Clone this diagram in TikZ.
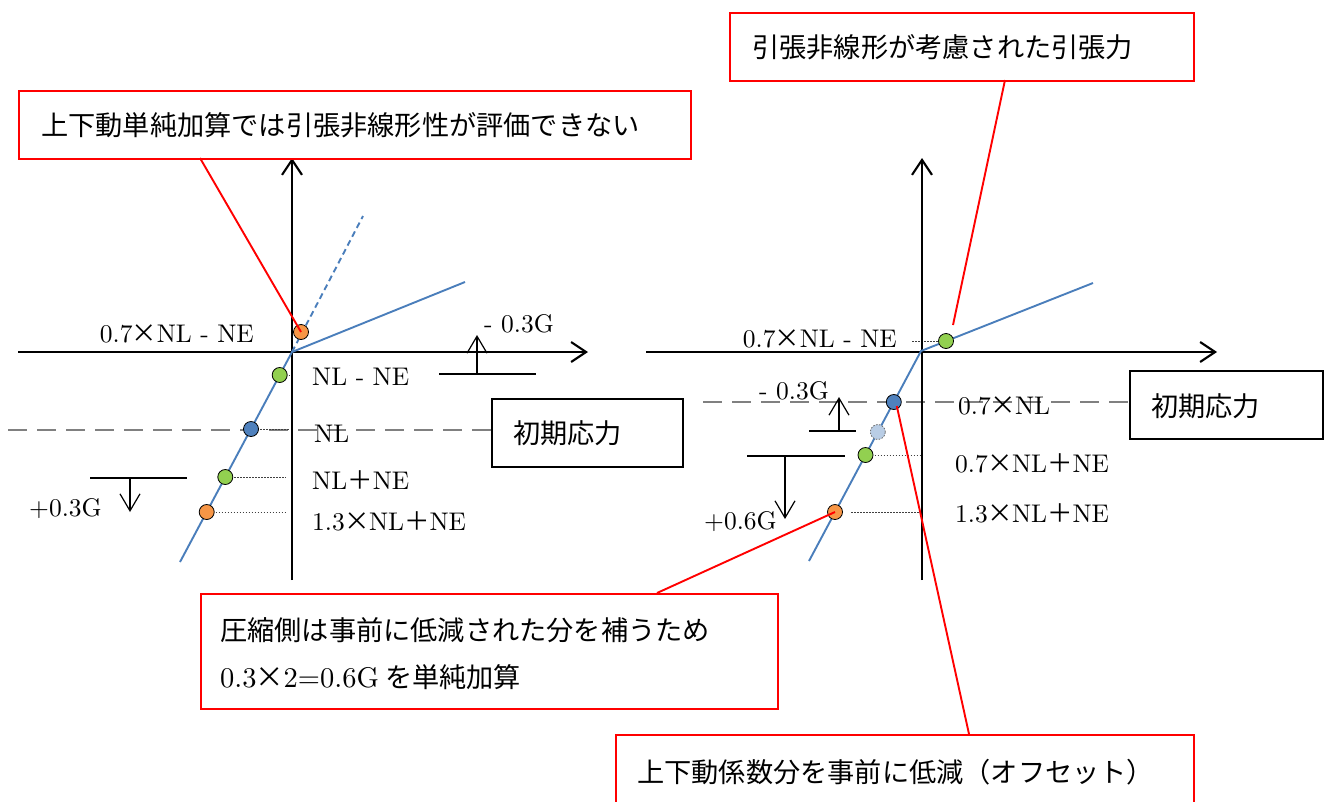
\documentclass[tikz,border=0pt]{standalone}
\usepackage{fontspec}
\setmainfont{lmroman10-regular.otf}
\newfontfamily\lat{lmroman10-regular.otf}
\newfontfamily\jp{Noto Sans CJK JP}
\usetikzlibrary{arrows.meta}
\definecolor{bl}{HTML}{4A7EBB}
\definecolor{org}{HTML}{F79646}
\definecolor{grn}{HTML}{92D050}
\definecolor{bdot}{HTML}{4F81BD}
\definecolor{ldot}{HTML}{B9CDE5}
\newcommand{\tms}{\makebox[0.95em][c]{\jp ×}}
\newcommand{\pls}{{\jp ＋}}
\tikzset{
  axisline/.style={line width=2.1pt,-{Straight Barb[length=15pt,width=20pt]}},
  curve/.style={bl,line width=1.9pt},
  dot/.style={circle,draw=black,line width=0.8pt,minimum size=15pt,inner sep=0pt},
  lead/.style={line width=1pt,black!75,dash pattern=on 1.5pt off 1.5pt},
  gdash/.style={gray,line width=1.8pt,dash pattern=on 19pt off 10pt},
  redbox/.style={draw=red,line width=1.9pt,inner sep=0pt,anchor=north west},
  blkbox/.style={draw=black,line width=2pt,inner sep=0pt,anchor=north west},
  rline/.style={red,line width=1.9pt},
  lbl/.style={font=\lat\fontsize{25.5}{30}\selectfont,inner sep=0pt},
  jtxt/.style={font=\jp\fontsize{27.2}{32}\selectfont,inner sep=0pt,anchor=west},
  garrow/.style={line width=1.2pt,-{Straight Barb[length=17pt,width=20pt]}},
  thinline/.style={line width=1.2pt}
}
\begin{document}
\begin{tikzpicture}[x=1pt,y=-1pt]
\useasboundingbox (0,0) rectangle (1330,801);
\clip (0,0) rectangle (1330,801);
% ---------------- left diagram ----------------
\draw[gdash] (8,430) -- (491,430);
\node[dot,draw=none] (lo1) at (301,332) {};
\node[dot,draw=none] (lg1) at (279.7,375) {};
\node[dot,draw=none] (lb1) at (251,429) {};
\node[dot,draw=none] (lg2) at (225.3,477) {};
\node[dot,draw=none] (lo2) at (206.7,512) {};
\coordinate (lax1) at (290,375);
\coordinate (lax2) at (290,429);
\coordinate (lax3) at (286,477);
\coordinate (lax4) at (286,512);
\draw[lead] (lg1.center) -- (lax1);
\draw[lead] (lb1.center) -- (lax2);
\draw[lead] (lg2.center) -- (lax3);
\draw[lead] (lo2.center) -- (lax4);
\coordinate (lxs) at (18,352); \coordinate (lxe) at (588,352);
\coordinate (lys) at (292,580); \coordinate (lye) at (292,158);
\draw[axisline] (lxs) -- (lxe);
\draw[axisline] (lys) -- (lye);
\coordinate (lO) at (292,352);
\coordinate (lc1) at (180,562);
\coordinate (lc2) at (465,282);
\coordinate (lc3) at (363,216);
\draw[curve] (lc1) -- (lO) -- (lc2);
\draw[curve,dash pattern=on 6pt off 4pt] (lO) -- (lc3);
\node[dot,fill=org] at (lo1) {};
\node[dot,fill=grn] at (lg1) {};
\node[dot,fill=bdot] at (lb1) {};
\node[dot,fill=grn] at (lg2) {};
\node[dot,fill=org] at (lo2) {};
% G arrows
\coordinate (lu1) at (439,374); \coordinate (lu2) at (536,374);
\coordinate (lu3) at (477,374); \coordinate (lu4) at (477,335);
\draw[thinline] (lu1) -- (lu2);
\draw[garrow] (lu3) -- (lu4);
\coordinate (ld1) at (90,478); \coordinate (ld2) at (187,478);
\coordinate (ld3) at (130,478); \coordinate (ld4) at (130,512);
\draw[thinline] (ld1) -- (ld2);
\draw[garrow] (ld3) -- (ld4);
% labels
\node[lbl,anchor=base east] (ll1) at (254,342) {0.7\tms NL - NE};
\node[lbl,anchor=base west] (ll2) at (312,385) {NL - NE};
\node[lbl,anchor=base west] (ll3) at (314,442) {NL};
\node[lbl,anchor=base west] (ll4) at (312,489) {NL\pls NE};
\node[lbl,anchor=base west] (ll5) at (312,530) {1.3\tms NL\pls NE};
\node[lbl,anchor=base west] (ll6) at (484,332) {- 0.3G};
\node[lbl,anchor=base west] (ll7) at (29,516) {+0.3G};
\node[blkbox,minimum width=191pt,minimum height=68pt] (kb1) at (491,398) {};
\node[jtxt] (kt1) at (513,433) {初期応力};
% ---------------- right diagram ----------------
\draw[gdash] (703,402) -- (1129,402);
\node[dot,draw=none] (rg1) at (946,341) {};
\node[dot,draw=none] (rb1) at (893.8,402) {};
\node[dot,draw=none] (rl1) at (877.8,432) {};
\node[dot,draw=none] (rg2) at (865.5,455) {};
\node[dot,draw=none] (ro1) at (835,512) {};
\coordinate (rax0) at (912,341);
\coordinate (rax2) at (920,455);
\coordinate (rax3a) at (851,512);
\coordinate (rax3) at (920,512);
\draw[lead] (rax0) -- (rg1.center);
\draw[lead] (rg2.center) -- (rax2);
\draw[lead] (rax3a) -- (rax3);
\coordinate (rxs) at (646,352); \coordinate (rxe) at (1217,352);
\coordinate (rys) at (922,580); \coordinate (rye) at (922,158);
\draw[axisline] (rxs) -- (rxe);
\draw[axisline] (rys) -- (rye);
\coordinate (rO) at (921,351);
\coordinate (rc1) at (809,561);
\coordinate (rc2) at (1093,283);
\draw[curve] (rc1) -- (rO) -- (rc2);
\node[dot,fill=grn] at (rg1) {};
\node[dot,fill=bdot] at (rb1) {};
\node[dot,fill=ldot,draw=black!60,dash pattern=on 1.5pt off 1.5pt] at (rl1) {};
\node[dot,fill=grn] at (rg2) {};
\node[dot,fill=org] at (ro1) {};
\coordinate (ru1) at (809,431); \coordinate (ru2) at (856,431);
\coordinate (ru3) at (839,431); \coordinate (ru4) at (839,397);
\draw[thinline] (ru1) -- (ru2);
\draw[garrow] (ru3) -- (ru4);
\coordinate (rd1) at (747,456); \coordinate (rd2) at (845,456);
\coordinate (rd3) at (785,456); \coordinate (rd4) at (785,519);
\draw[thinline] (rd1) -- (rd2);
\draw[garrow] (rd3) -- (rd4);
\node[lbl,anchor=base east] (rl1t) at (897,347) {0.7\tms NL - NE};
\node[lbl,anchor=base west] (rl2t) at (958,414) {0.7\tms NL};
\node[lbl,anchor=base west] (rl3t) at (955,472) {0.7\tms NL\pls NE};
\node[lbl,anchor=base west] (rl4t) at (955,522) {1.3\tms NL\pls NE};
\node[lbl,anchor=base west] (rl5t) at (759,399) {- 0.3G};
\node[lbl,anchor=base west] (rl6t) at (704,529) {+0.6G};
\node[blkbox,minimum width=193pt,minimum height=68pt] (kb2) at (1129,370) {};
\node[jtxt] (kt2) at (1151,406) {初期応力};
% ---------------- callouts ----------------
\node[redbox,minimum width=672pt,minimum height=68pt] (tb1) at (18,90) {};
\node[jtxt] (tt1) at (41,125) {上下動単純加算では引張非線形性が評価できない};
\node[redbox,minimum width=464pt,minimum height=68pt] (tb2) at (729,12) {};
\node[jtxt] (tt2) at (752,47) {引張非線形が考慮された引張力};
\node[redbox,minimum width=577pt,minimum height=115pt] (tb3) at (200,593) {};
\node[jtxt] (tt3) at (220,630) {圧縮側は事前に低減された分を補うため};
\node[jtxt] (tt3b) at (220,677) {{\lat\fontsize{28.5}{32}\selectfont 0.3\tms 2=0.6G} を単純加算};
\node[redbox,minimum width=578pt,minimum height=90pt] (tb4) at (615,734) {};
\node[jtxt] (tt4) at (637,772) {上下動係数分を事前に低減（オフセット）};
\coordinate (k1) at (200,158);
\coordinate (k2) at (1005,80);
\coordinate (k2e) at (953,325);
\coordinate (k3) at (657,593);
\coordinate (k4) at (969,734);
\draw[rline] (k1) -- (lo1.center);
\draw[rline] (k2) -- (k2e);
\draw[rline] (k3) -- (ro1.center);
\draw[rline] (k4) -- ([shift={(3,4)}]rb1.center);
\end{tikzpicture}
\end{document}
